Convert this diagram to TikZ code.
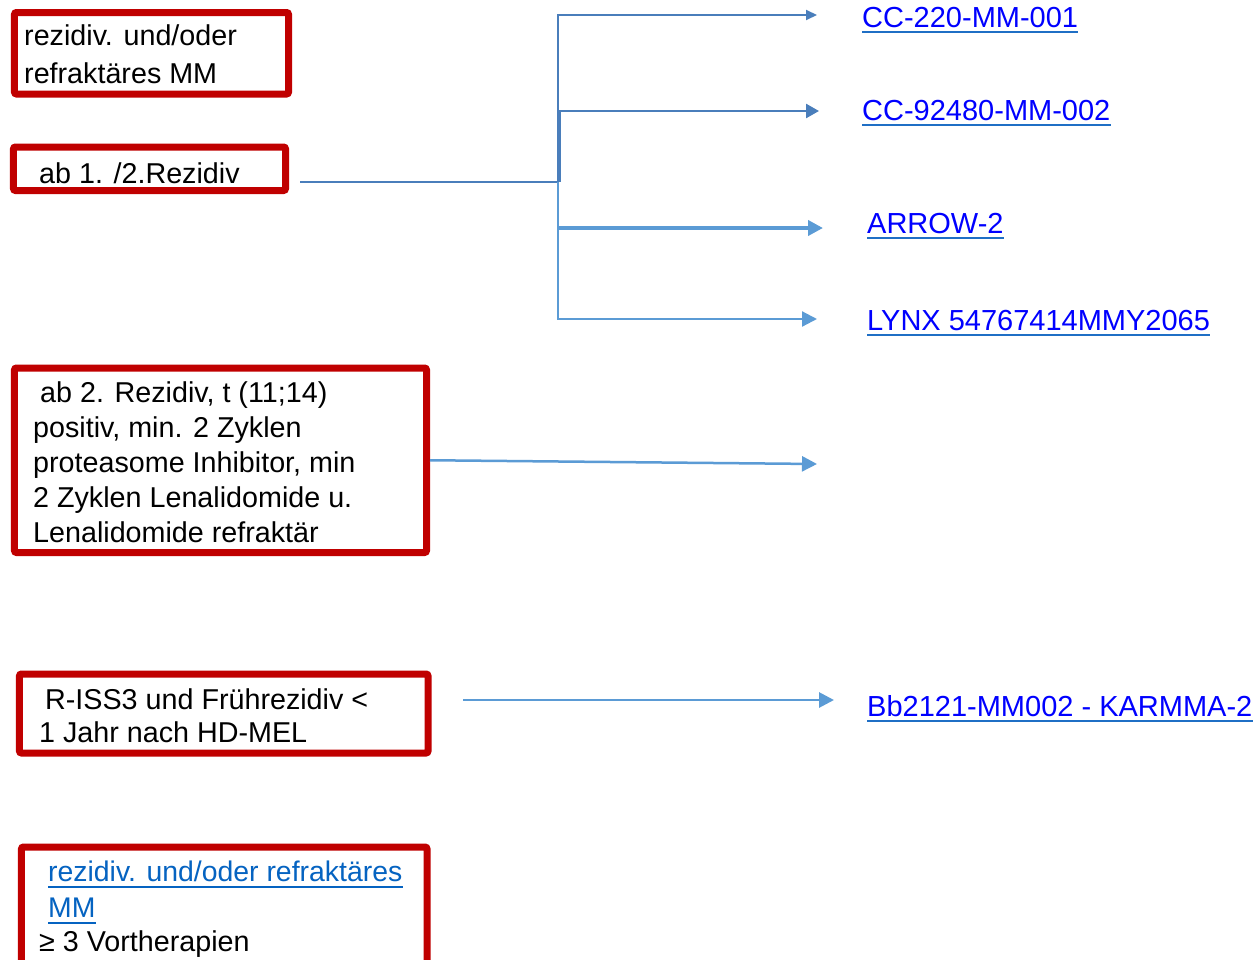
\documentclass[tikz,border=0pt]{standalone}
\usepackage{fontspec}
\setmainfont{Liberation Sans}
\usetikzlibrary{arrows.meta}
\definecolor{boxred}{HTML}{C00000}
\definecolor{cdark}{HTML}{4A7EBB}
\definecolor{clight}{HTML}{5B9BD5}
\definecolor{linkblue}{HTML}{0000FF}
\definecolor{ulblue}{HTML}{1F6FC5}
\definecolor{hlblue}{HTML}{0563C1}
\begin{document}
\begin{tikzpicture}[x=1bp,y=-1bp,
  redbox/.style={draw=boxred,line width=7bp,rounded corners=2bp,inner sep=0pt,fill=white},
  txt/.style={anchor=base west,inner sep=0pt,font=\fontsize{28.7bp}{34bp}\selectfont},
  link/.style={anchor=base west,inner sep=0pt,text=linkblue,font=\fontsize{29bp}{34bp}\selectfont},
  hl/.style={anchor=base west,inner sep=0pt,text=hlblue,font=\fontsize{28.4bp}{34bp}\selectfont},
  ul/.style={draw=ulblue,line width=2bp},
  hlul/.style={draw=hlblue,line width=2bp},
  dk/.style={draw=cdark,line width=2bp},
  lt/.style={draw=clight,line width=2.2bp},
  tip/.style={-{Triangle[length=15bp,width=15bp]}},
  smalltip/.style={-{Triangle[length=11bp,width=10bp]}},
  midtip/.style={-{Triangle[length=13bp,width=14bp]}},
]
\clip (0,0) rectangle (1253,960);
\fill[white] (0,0) rectangle (1253,960);

% boxes
\node[redbox,minimum width=274bp,minimum height=81.5bp] (b1) at (151.5,53.25) {};
\node[redbox,minimum width=272bp,minimum height=43.5bp] (b2) at (149.5,168.75) {};
\node[redbox,minimum width=412bp,minimum height=184.5bp] (b3) at (220.5,460.25) {};
\node[redbox,minimum width=408.5bp,minimum height=79bp] (b4) at (223.75,713.5) {};
\node[redbox,minimum width=405.5bp,minimum height=150bp] (b5) at (224.25,922) {};

% box texts
\node[txt] (t1a) at (24,45) {rezidiv. und/oder};
\node[txt] (t1b) at (24,83) {refraktäres MM};
\node[txt] (t2) at (39,183) {ab 1. /2.Rezidiv};
\node[txt] (t3a) at (40,402) {ab 2. Rezidiv, t (11;14)};
\node[txt] (t3b) at (33,437) {positiv, min. 2 Zyklen};
\node[txt] (t3c) at (33,472) {proteasome Inhibitor, min};
\node[txt] (t3d) at (33,507) {2 Zyklen Lenalidomide u.};
\node[txt] (t3e) at (33,542) {Lenalidomide refraktär};
\node[txt] (t4a) at (45,709) {R-ISS3 und Frührezidiv <};
\node[txt] (t4b) at (39,742) {1 Jahr nach HD-MEL};
\node[hl] (t5a) at (48,881) {rezidiv. und/oder refraktäres};
\node[hl] (t5b) at (48,917) {MM};
\node[txt] (t5c) at (39,951) {≥ 3 Vortherapien};
\draw[hlul] ([yshift=-5.5bp]t5a.base west) -- ([yshift=-5.5bp]t5a.base east);
\draw[hlul] ([yshift=-5.5bp]t5b.base west) -- ([yshift=-5.5bp]t5b.base east);

% link texts
\node[link] (l1) at (862,27) {CC-220-MM-001};
\node[link] (l2) at (862,120) {CC-92480-MM-002};
\node[link] (l3) at (867,233) {ARROW-2};
\node[link] (l4) at (867,330) {LYNX 54767414MMY2065};
\node[link] (l5) at (867,716) {Bb2121-MM002 - KARMMA-2};
\foreach \n in {l1,l2,l3,l4,l5}
  \draw[ul] ([yshift=-5bp]\n.base west) -- ([yshift=-5bp]\n.base east);

% connector coordinates
\coordinate (s2) at (300,182);
\coordinate (j) at (558,182);
\coordinate (e1) at (817,15);
\coordinate (e2) at (819,111);
\coordinate (e3) at (823,228);
\coordinate (e4) at (817,319);
\coordinate (e5) at (817,464);
\coordinate (s4) at (463,700);
\coordinate (e6) at (834,700);

% connectors
\draw[dk] (s2) -- (j);
\draw[dk,smalltip] (j) |- (e1);
\draw[dk,line width=2.6bp,midtip] ([xshift=1.5bp]j) |- (e2);
\draw[lt,tip] (j) |- (e4);
\draw[lt,line width=4.5bp,tip] (j |- e3) -- (e3);
\draw[lt,line width=2.5bp,tip] (b3.east) -- (e5);
\draw[lt,line width=2.8bp,tip] (s4) -- (e6);
\end{tikzpicture}
\end{document}
